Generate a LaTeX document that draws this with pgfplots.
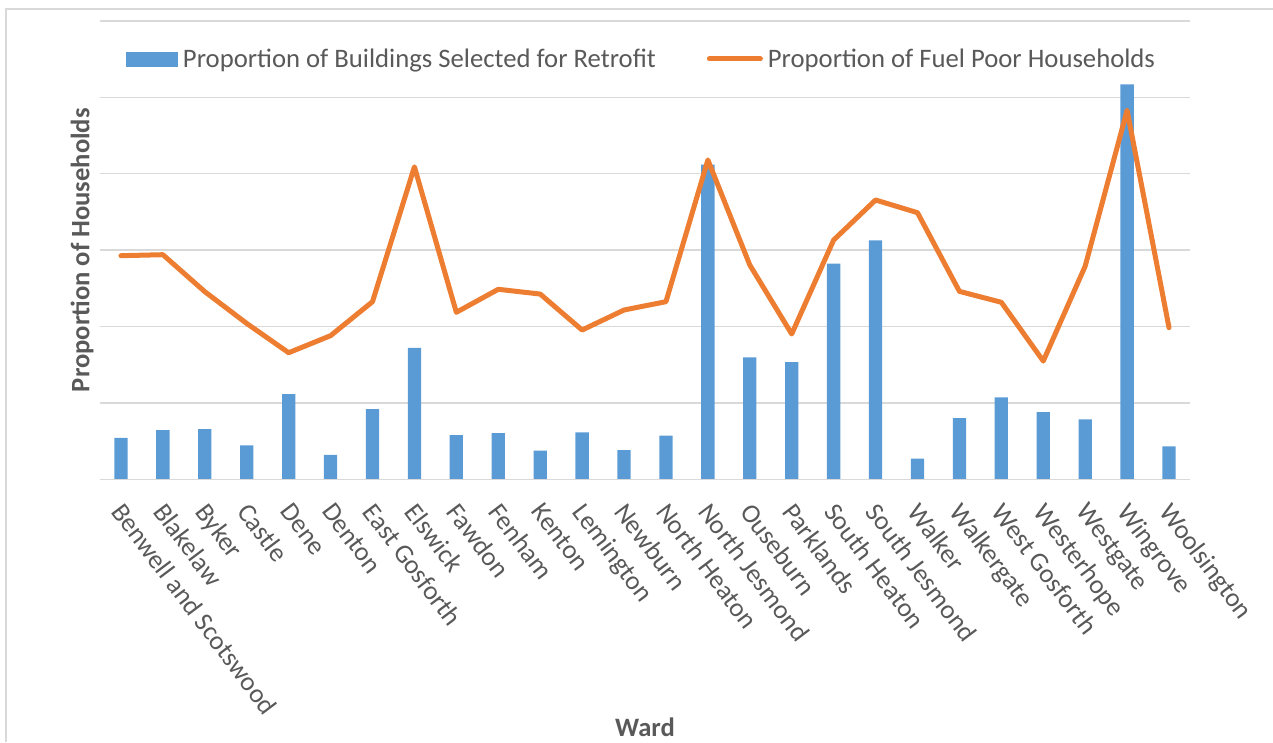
\documentclass[border=0pt]{standalone}
\usepackage{pgfplots}
\pgfplotsset{compat=1.18}
\usepackage{fontspec}
\setmainfont{Carlito}
\definecolor{barblue}{HTML}{5B9BD5}
\definecolor{lineorange}{HTML}{ED7D31}
\definecolor{gridgray}{HTML}{D9D9D9}
\definecolor{textgray}{HTML}{595959}
\begin{document}
\begin{tikzpicture}
\useasboundingbox (0pt,0pt) rectangle (1273pt,-742pt);
\draw[gridgray, line width=1.5pt] (6pt,-742pt) -- (6pt,-9pt) -- (1273pt,-9pt);
\begin{axis}[
  at={(100pt,-479.3pt)}, anchor=south west,
  scale only axis, width=1090pt, height=458.4pt,
  xmin=-0.5, xmax=25.5, ymin=0, ymax=6,
  axis line style={draw=none, draw opacity=0},
  tick style={draw=none},
  xtick={0,...,25},
  xticklabels={Benwell and Scotswood,Blakelaw,Byker,Castle,Dene,Denton,East Gosforth,Elswick,Fawdon,Fenham,Kenton,Lemington,Newburn,North Heaton,North Jesmond,Ouseburn,Parklands,South Heaton,South Jesmond,Walker,Walkergate,West Gosforth,Westerhope,Westgate,Wingrove,Woolsington},
  ytick={0,...,6}, yticklabels={},
  ymajorgrids, grid style={gridgray, line width=1.5pt},
  major tick length=0pt,
  xticklabel style={font=\fontsize{26.6}{32}\selectfont, text=textgray, inner sep=0pt, anchor=north west, xshift=4.2pt, yshift=-21.5pt, rotate=-53},
  xlabel={Ward},
  xlabel style={at={(axis description cs:0.5,-0.540)}, anchor=center, font=\bfseries\fontsize{26.6}{32}\selectfont, text=textgray},
  ylabel={Proportion of Households},
  ylabel style={at={(axis description cs:-0.0165,0.5)}, anchor=center, rotate=0, font=\bfseries\fontsize{26.6}{32}\selectfont, text=textgray},
  legend columns=2,
  legend cell align=left,
  legend style={at={(axis description cs:0.02385,0.916)}, anchor=west, draw=none, fill=none, inner sep=0pt, outer sep=0pt,
    font=\fontsize{26.7}{32}\selectfont, text=textgray, nodes={inner sep=0pt},
    /tikz/every odd column/.append style={column sep=5pt},
    /tikz/every even column/.append style={column sep=51pt}},
]
\draw[gridgray, line width=1.5pt] (rel axis cs:0,1) -- (rel axis cs:1,1);
\addplot[ybar, bar width=13.3pt, fill=barblue, draw=none,
  legend image code/.code={\fill[barblue] (0pt,-7.5pt) rectangle (52pt,7.5pt);}]
  coordinates {(0,0.544)(1,0.645)(2,0.657)(3,0.443)(4,1.116)(5,0.321)(6,0.92)(7,1.72)(8,0.58)(9,0.606)(10,0.375)(11,0.615)(12,0.383)(13,0.571)(14,4.12)(15,1.597)(16,1.535)(17,2.822)(18,3.128)(19,0.27)(20,0.802)(21,1.073)(22,0.881)(23,0.785)(24,5.17)(25,0.432)};
\addlegendentry{Proportion of Buildings Selected for Retrofit}
\draw[gridgray, line width=1.5pt] (rel axis cs:0,0) -- (rel axis cs:1,0);
\addplot[lineorange, line width=5pt, line join=round, line cap=round, mark=none,
  legend image code/.code={\draw[lineorange, line width=5pt, line cap=round] (2.5pt,0.5pt) -- (53.5pt,0.5pt);}]
  coordinates {(0,2.927)(1,2.94)(2,2.456)(3,2.04)(4,1.657)(5,1.88)(6,2.325)(7,4.09)(8,2.186)(9,2.487)(10,2.425)(11,1.954)(12,2.216)(13,2.325)(14,4.18)(15,2.805)(16,1.902)(17,3.132)(18,3.656)(19,3.49)(20,2.46)(21,2.317)(22,1.548)(23,2.79)(24,4.83)(25,1.985)};
\addlegendentry{Proportion of Fuel Poor Households}
\end{axis}
\end{tikzpicture}
\end{document}
